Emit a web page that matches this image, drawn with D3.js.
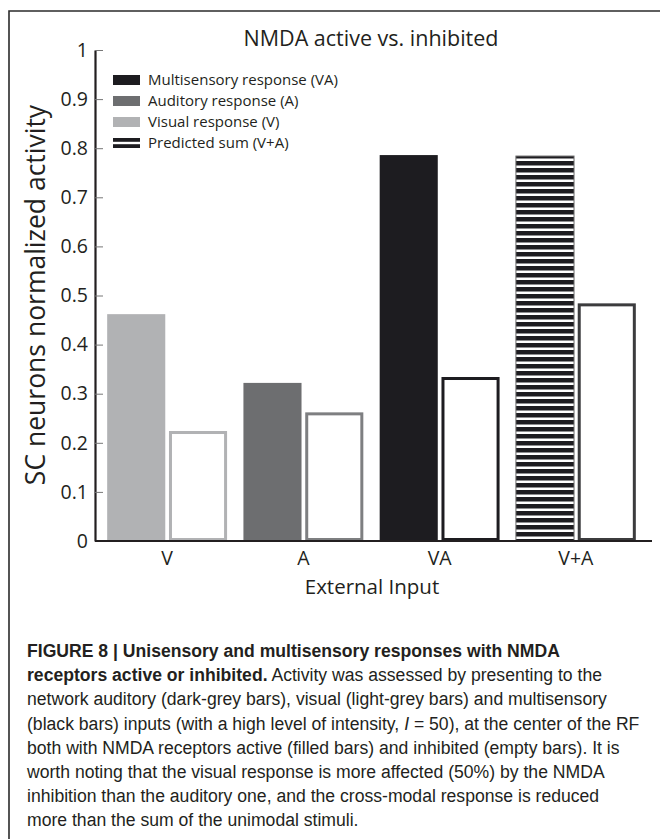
<!DOCTYPE html>
<html>
<head>
<meta charset="utf-8">
<script src="https://cdn.jsdelivr.net/npm/d3@7"></script>
<style>
  body { margin: 0; background: #fff; }
  svg { display: block; }
  .chart-text { font-family: "Open Sans", sans-serif; fill: #231f20; }
  .caption { font-family: "Liberation Sans", Arial, sans-serif; fill: #231f20; }
</style>
</head>
<body>
<div id="chart"></div>
<script>
// data
var categories = ['V', 'A', 'VA', 'V+A'];
var activeValues = [0.462, 0.322, 0.786, 0.784];
var inhibitedValues = [0.224, 0.262, 0.334, 0.484];
var yTicks = [0, 0.1, 0.2, 0.3, 0.4, 0.5, 0.6, 0.7, 0.8, 0.9, 1];
var legendLabels = ['Multisensory response (VA)', 'Auditory response (A)', 'Visual response (V)', 'Predicted sum (V+A)'];
var legendKeys = ['VA', 'A', 'V', 'V+A'];
var captionLines = [
  [{t: 'FIGURE 8 | Unisensory and multisensory responses with NMDA', b: true}],
  [{t: 'receptors active or inhibited.', b: true}, {t: ' Activity was assessed by presenting to the'}],
  [{t: 'network auditory (dark-grey bars), visual (light-grey bars) and multisensory'}],
  [{t: '(black bars) inputs (with a high level of intensity, '}, {t: 'I', i: true}, {t: ' = 50), at the center of the RF'}],
  [{t: 'both with NMDA receptors active (filled bars) and inhibited (empty bars). It is'}],
  [{t: 'worth noting that the visual response is more affected (50%) by the NMDA'}],
  [{t: 'inhibition than the auditory one, and the cross-modal response is reduced'}],
  [{t: 'more than the sum of the unimodal stimuli.'}]
];

(function () {
  var fillColor = {'V': '#b1b2b4', 'A': '#6d6e70', 'VA': '#1d1c20', 'V+A': 'url(#stripes)'};
  var strokeColor = {'V': '#b1b2b4', 'A': '#7e7f81', 'VA': '#1d1c20', 'V+A': '#3c3c3e'};

  var W = 660, H = 839;
  var mLeft = 95, mRight = 652, mTop = 50, mBottom = 541;

  var svg = d3.select('#chart').append('svg').attr('width', W).attr('height', H);

  var defs = svg.append('defs');
  var pat = defs.append('pattern').attr('id', 'stripes')
    .attr('patternUnits', 'userSpaceOnUse').attr('width', 8).attr('height', 7);
  pat.append('rect').attr('width', 8).attr('height', 7).attr('fill', '#1d1c20');
  pat.append('rect').attr('y', 4.5).attr('width', 8).attr('height', 2.5).attr('fill', '#fff');

  // frame
  svg.append('path').attr('d', 'M9,' + H + 'V11H' + W)
    .attr('fill', 'none').attr('stroke', '#2b2b2b').attr('stroke-width', 1.6);

  var y = d3.scaleLinear().domain([0, 1]).range([mBottom, mTop]);
  var x0 = d3.scaleBand().domain(categories).range([mLeft + 4, mRight - 8]).paddingInner(0.12).paddingOuter(0.06);
  var x1 = d3.scaleBand().domain(['active', 'inhibited']).range([0, x0.bandwidth()]).paddingInner(0.06);

  var rows = categories.map(function (c, i) {
    return {cat: c, active: activeValues[i], inhibited: inhibitedValues[i]};
  });

  var groups = svg.selectAll('g.cat').data(rows).enter().append('g')
    .attr('class', 'cat')
    .attr('transform', function (d) { return 'translate(' + x0(d.cat) + ',0)'; });

  groups.append('rect')
    .attr('x', x1('active'))
    .attr('y', function (d) { return y(d.active); })
    .attr('width', x1.bandwidth())
    .attr('height', function (d) { return y(0) - y(d.active); })
    .attr('fill', function (d) { return fillColor[d.cat]; })
    .attr('stroke', function (d) { return d.cat === 'V+A' ? '#6a6a6a' : 'none'; })
    .attr('stroke-width', 1);

  var sw = 3;
  groups.append('rect')
    .attr('x', x1('inhibited') + sw / 2)
    .attr('y', function (d) { return y(d.inhibited) + sw / 2; })
    .attr('width', x1.bandwidth() - sw)
    .attr('height', function (d) { return y(0) - y(d.inhibited) - sw; })
    .attr('fill', '#fff')
    .attr('stroke', function (d) { return strokeColor[d.cat]; })
    .attr('stroke-width', sw);

  // y axis
  var yAxis = svg.append('g').attr('transform', 'translate(' + mLeft + ',0)')
    .call(d3.axisLeft(y).tickValues(yTicks).tickSizeInner(-8).tickSizeOuter(0).tickPadding(7)
      .tickFormat(function (d) { return String(+d.toFixed(1)); }));
  yAxis.select('.domain').attr('stroke', '#231f20').attr('stroke-width', 2.2);
  yAxis.selectAll('.tick line').attr('stroke', '#777').attr('stroke-width', 1);
  yAxis.selectAll('.tick text').attr('class', 'chart-text').style('font-size', '19.5px').attr('fill', '#231f20');

  // x axis
  svg.append('line').attr('x1', mLeft).attr('x2', mRight).attr('y1', y(0)).attr('y2', y(0))
    .attr('stroke', '#231f20').attr('stroke-width', 2.2);
  var xAxis = svg.append('g').attr('transform', 'translate(0,' + y(0) + ')')
    .call(d3.axisBottom(x0).tickSize(0).tickPadding(10));
  xAxis.select('.domain').remove();
  xAxis.selectAll('.tick text').attr('class', 'chart-text').style('font-size', '19.5px').attr('fill', '#231f20');

  // titles
  svg.append('text').attr('class', 'chart-text').attr('x', 371).attr('y', 46)
    .attr('text-anchor', 'middle').style('font-size', '21.5px').text('NMDA active vs. inhibited');
  svg.append('text').attr('class', 'chart-text').attr('x', 372).attr('y', 594)
    .attr('text-anchor', 'middle').style('font-size', '20.5px').text('External Input');
  svg.append('text').attr('class', 'chart-text')
    .attr('transform', 'translate(45,295) rotate(-90)')
    .attr('text-anchor', 'middle').style('font-size', '26.5px').text('SC neurons normalized activity');

  // legend
  var legend = svg.append('g').attr('transform', 'translate(113,75)');
  var li = legend.selectAll('g').data(legendKeys).enter().append('g')
    .attr('transform', function (d, i) { return 'translate(0,' + (i * 21) + ')'; });
  li.append('rect').attr('width', 27).attr('height', 10)
    .attr('fill', function (d) { return d === 'V+A' ? '#1d1c20' : fillColor[d]; });
  li.filter(function (d) { return d === 'V+A'; }).append('rect')
    .attr('y', 3.8).attr('width', 27).attr('height', 2.4).attr('fill', '#fff');
  li.append('text').attr('class', 'chart-text').attr('x', 35).attr('y', 5).attr('dy', '0.35em')
    .style('font-size', '15px').text(function (d, i) { return legendLabels[i]; });

  // caption
  var cap = svg.append('text').attr('class', 'caption').style('font-size', '17.6px');
  captionLines.forEach(function (line, i) {
    var t = cap.append('tspan').attr('x', 27).attr('y', 657 + i * 24.2);
    line.forEach(function (seg, j) {
      var s = j === 0 ? t : cap.append('tspan');
      s.text(seg.t)
        .style('font-weight', seg.b ? 'bold' : 'normal')
        .style('font-style', seg.i ? 'italic' : 'normal');
    });
  });
})();
</script>
</body>
</html>
